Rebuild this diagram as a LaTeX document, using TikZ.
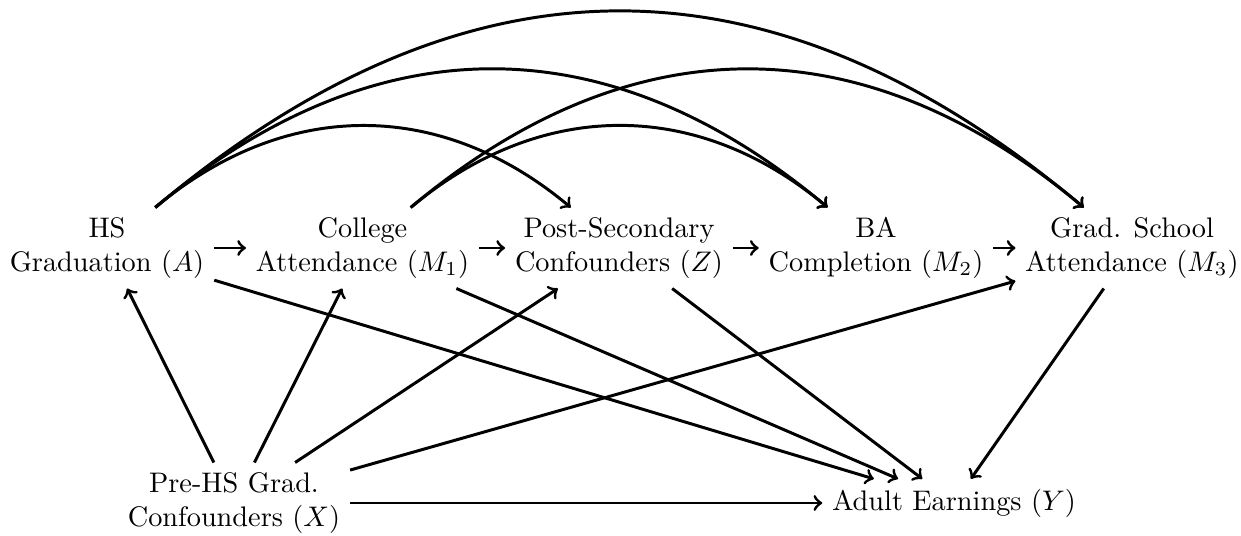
\documentclass[tikz,border=0pt]{standalone}
\begin{document}
\begin{tikzpicture}[x=0.3534pt,y=-0.3534pt,
  var/.style={align=center, inner sep=3.333pt},
  arr/.style={->, line width=1.05pt},
  bendarc/.style={arr, out=40, in=140}]
\useasboundingbox (0,0) rectangle (1241,535);
\node[var] (A)  at (107,248)   {HS\\Graduation ($A$)};
\node[var] (M1) at (362.5,248) {College\\Attendance ($M_1$)};
\node[var] (Z)  at (619,248)   {Post-Secondary\\Confounders ($Z$)};
\node[var] (M2) at (876,248)   {BA\\Completion ($M_2$)};
\node[var] (M3) at (1132,248)  {Grad. School\\Attendance ($M_3$)};
\node[var] (X)  at (234,503)   {Pre-HS Grad.\\Confounders ($X$)};
\node[var] (Y)  at (954,503)   {Adult Earnings ($Y$)};

\draw[arr] (A) -- (M1);
\draw[arr] (M1) -- (Z);
\draw[arr] (Z) -- (M2);
\draw[arr] (M2) -- (M3);
\draw[arr] (X) -- (A);
\draw[arr] (X) -- (M1);
\draw[arr] (X) -- (Z);
\draw[arr] (X) -- (M3);
\draw[arr] (X) -- (Y);
\draw[arr] (A) -- (Y);
\draw[arr] (M1) -- (Y);
\draw[arr] (Z) -- (Y);
\draw[arr] (M3) -- (Y);
\draw[bendarc, distance=60pt] (A) to (Z);
\draw[bendarc, distance=60pt] (M1) to (M2);
\draw[bendarc, distance=101.5pt] (A) to (M2);
\draw[bendarc, distance=101.5pt] (M1) to (M3);
\draw[bendarc, distance=144pt] (A) to (M3);
\end{tikzpicture}
\end{document}
